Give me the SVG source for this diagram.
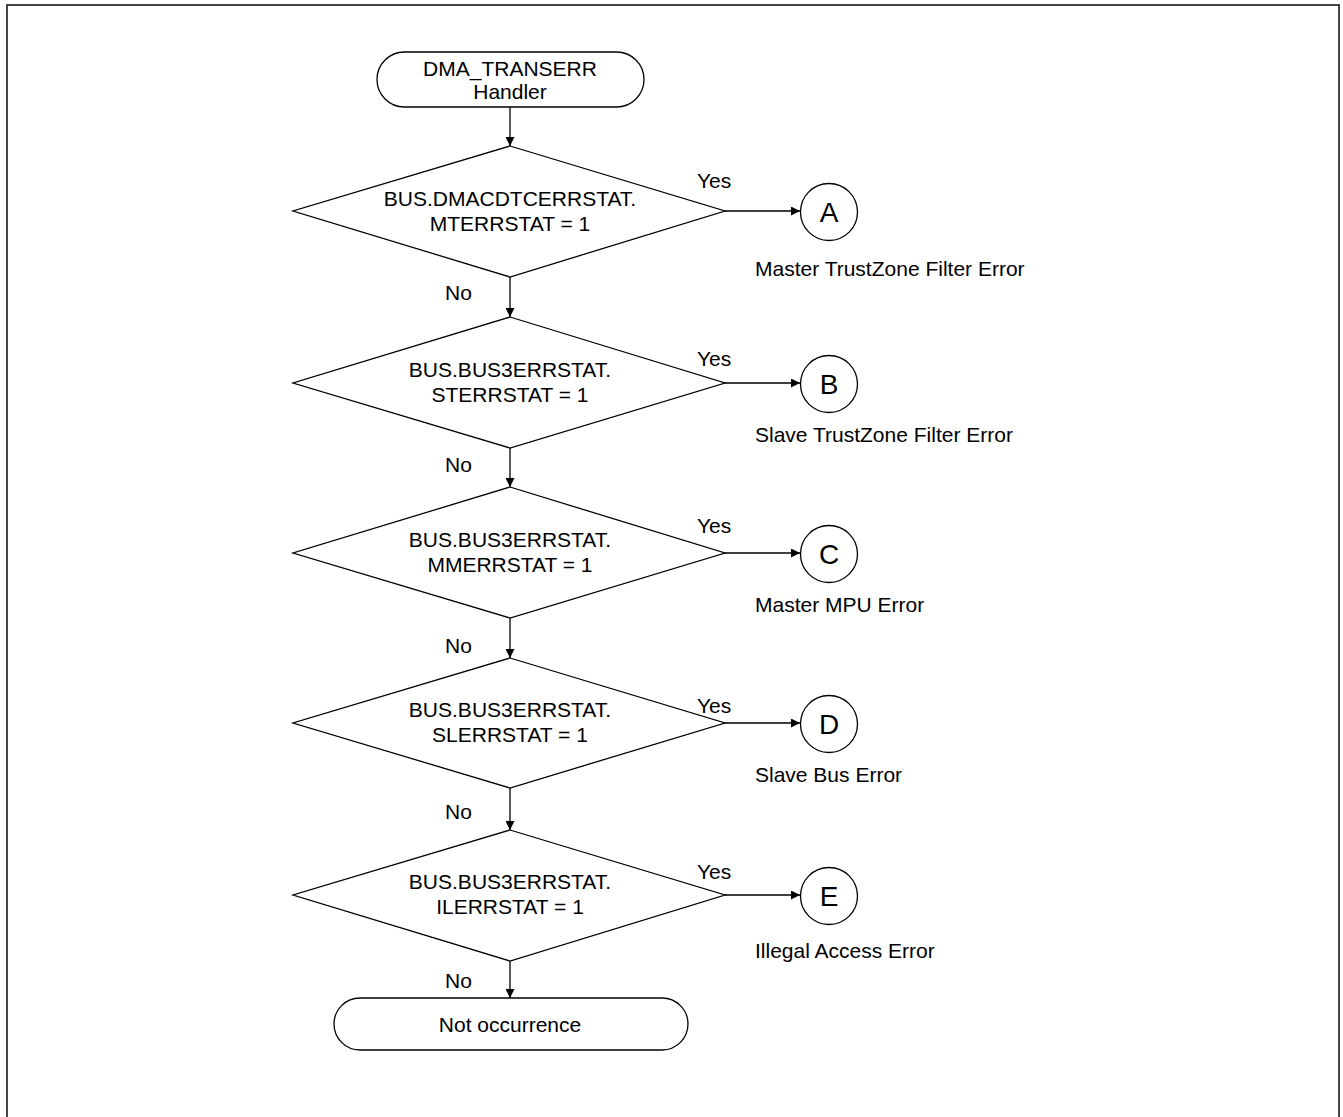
<svg xmlns="http://www.w3.org/2000/svg" width="1343" height="1117" viewBox="0 0 1343 1117">
<defs>
<style>
.s{fill:#fff;stroke:#000;stroke-width:1.3}
.c{fill:none;stroke:#000;stroke-width:1.3}
text{font-family:"Liberation Sans",Arial,sans-serif;font-size:21px;fill:#000}
.m{text-anchor:middle}
.big{font-size:28px}
</style>
<marker id="ah" viewBox="0 0 10 10" refX="10" refY="5" markerWidth="9" markerHeight="9" markerUnits="userSpaceOnUse" orient="auto">
<path d="M0,0 L10,5 L0,10 z" fill="#000"/>
</marker>
</defs>
<rect x="0" y="0" width="1343" height="1117" fill="#fff"/>
<rect x="7" y="5" width="1332" height="1130" fill="none" stroke="#444" stroke-width="2"/>

<g id="connectors">
<line class="c" x1="510" y1="107" x2="510" y2="146" marker-end="url(#ah)"/>
<line class="c" x1="510" y1="277" x2="510" y2="317" marker-end="url(#ah)"/>
<line class="c" x1="510" y1="448" x2="510" y2="487" marker-end="url(#ah)"/>
<line class="c" x1="510" y1="618" x2="510" y2="658" marker-end="url(#ah)"/>
<line class="c" x1="510" y1="788" x2="510" y2="830" marker-end="url(#ah)"/>
<line class="c" x1="510" y1="961" x2="510" y2="998" marker-end="url(#ah)"/>
<line class="c" x1="725" y1="211" x2="800" y2="211" marker-end="url(#ah)"/>
<line class="c" x1="725" y1="383" x2="800" y2="383" marker-end="url(#ah)"/>
<line class="c" x1="725" y1="553" x2="800" y2="553" marker-end="url(#ah)"/>
<line class="c" x1="725" y1="723" x2="800" y2="723" marker-end="url(#ah)"/>
<line class="c" x1="725" y1="895" x2="800" y2="895" marker-end="url(#ah)"/>
<text x="697" y="188">Yes</text>
<text x="697" y="366">Yes</text>
<text x="697" y="533">Yes</text>
<text x="697" y="713">Yes</text>
<text x="697" y="879">Yes</text>
<text x="445" y="300">No</text>
<text x="445" y="472">No</text>
<text x="445" y="653">No</text>
<text x="445" y="819">No</text>
<text x="445" y="988">No</text>
</g>

<g id="start">
<rect class="s" x="377" y="52" width="267" height="55" rx="27.5"/>
<text class="m" x="510" y="76">DMA_TRANSERR</text>
<text class="m" x="510" y="99">Handler</text>
</g>

<g id="d1">
<polygon class="s" points="510,146 725,211 510,277 293,211"/>
<text class="m" x="510" y="206">BUS.DMACDTCERRSTAT.</text>
<text class="m" x="510" y="231">MTERRSTAT = 1</text>
</g>
<g id="d2">
<polygon class="s" points="510,317 725,383 510,448 293,383"/>
<text class="m" x="510" y="377">BUS.BUS3ERRSTAT.</text>
<text class="m" x="510" y="402">STERRSTAT = 1</text>
</g>
<g id="d3">
<polygon class="s" points="510,487 725,553 510,618 293,553"/>
<text class="m" x="510" y="547">BUS.BUS3ERRSTAT.</text>
<text class="m" x="510" y="572">MMERRSTAT = 1</text>
</g>
<g id="d4">
<polygon class="s" points="510,658 725,723 510,788 293,723"/>
<text class="m" x="510" y="717">BUS.BUS3ERRSTAT.</text>
<text class="m" x="510" y="742">SLERRSTAT = 1</text>
</g>
<g id="d5">
<polygon class="s" points="510,830 725,895 510,961 293,895"/>
<text class="m" x="510" y="889">BUS.BUS3ERRSTAT.</text>
<text class="m" x="510" y="914">ILERRSTAT = 1</text>
</g>

<g id="A">
<circle class="s" cx="829" cy="212" r="28.5"/>
<text class="m big" x="829" y="222">A</text>
<text x="755" y="276">Master TrustZone Filter Error</text>
</g>
<g id="B">
<circle class="s" cx="829" cy="384" r="28.5"/>
<text class="m big" x="829" y="394">B</text>
<text x="755" y="442">Slave TrustZone Filter Error</text>
</g>
<g id="C">
<circle class="s" cx="829" cy="554" r="28.5"/>
<text class="m big" x="829" y="564">C</text>
<text x="755" y="612">Master MPU Error</text>
</g>
<g id="D">
<circle class="s" cx="829" cy="724" r="28.5"/>
<text class="m big" x="829" y="734">D</text>
<text x="755" y="782">Slave Bus Error</text>
</g>
<g id="E">
<circle class="s" cx="829" cy="896" r="28.5"/>
<text class="m big" x="829" y="906">E</text>
<text x="755" y="958">Illegal Access Error</text>
</g>

<g id="end">
<rect class="s" x="334" y="998" width="354" height="52" rx="26"/>
<text class="m" x="510" y="1032">Not occurrence</text>
</g>
</svg>
